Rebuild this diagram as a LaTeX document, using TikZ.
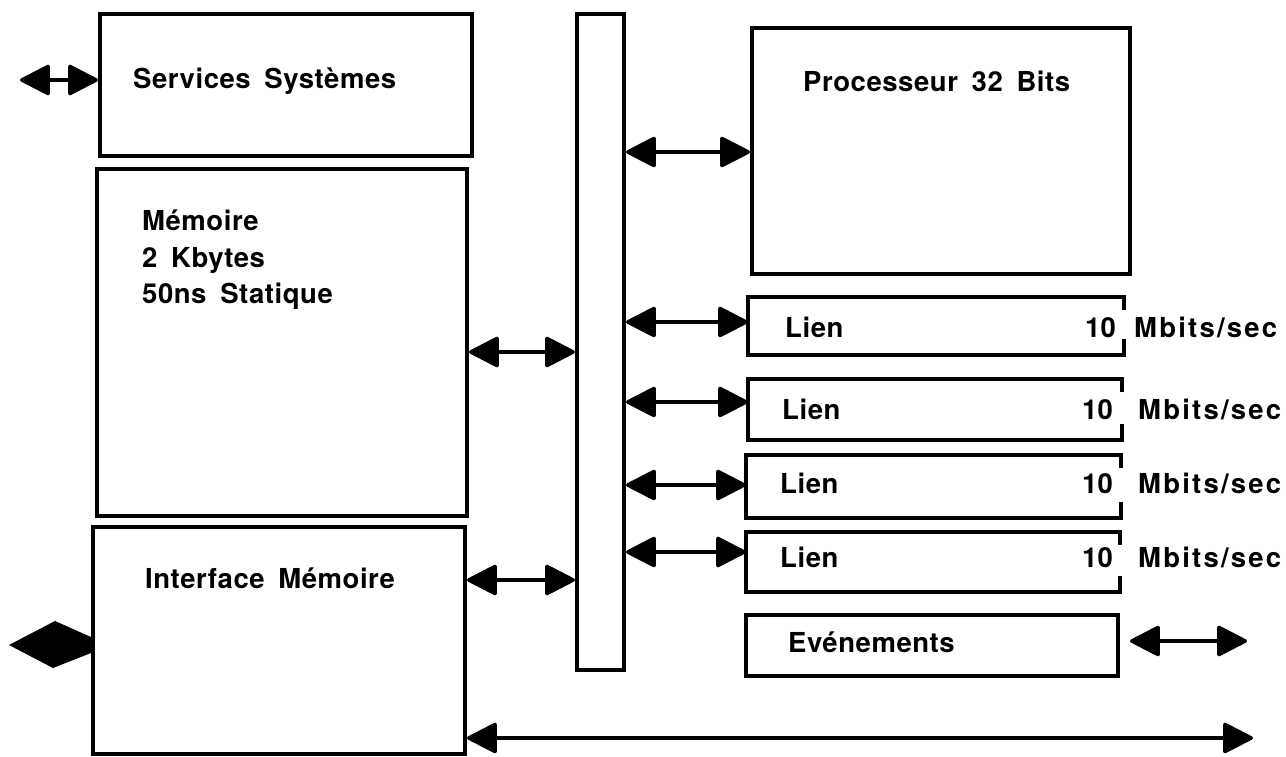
\documentclass[tikz,border=0pt]{standalone}
\usepackage{fontspec}
\setmainfont{TeX Gyre Heros}
\usetikzlibrary{arrows.meta,calc}
\tikzset{
  x=1pt, y=-1pt,
  box/.style={draw, line width=4pt, inner sep=0pt},
  openbox/.style={line width=4pt, line join=miter},
  lbl/.style={anchor=base west, inner sep=0pt, font=\bfseries\fontsize{27.5}{37}\selectfont\addfontfeature{LetterSpace=2}},
  lblr/.style={anchor=base east, inner sep=0pt, font=\bfseries\fontsize{27.5}{37}\selectfont},
  rate/.style={lbl, font=\bfseries\fontsize{27.5}{37}\selectfont\addfontfeature{LetterSpace=8}},
  head/.tip={Triangle[length=32pt,width=32pt,round]},
  arr/.style={line width=3.5pt, {head}-{head}},
}
\newcommand{\gap}{\hspace{0.5em}}
\begin{document}
\begin{tikzpicture}
\useasboundingbox (0,0) rectangle (1286,757);

% left column
\node[box, minimum width=372pt, minimum height=142pt] (svc) at (286,85) {};
\node[lbl] (svct) at (133,89) {Services\gap Systèmes};

\node[box, minimum width=370pt, minimum height=347pt] (mem) at (282,342.5) {};
\node[lbl] (memt) at (142,230) {Mémoire};
\node[lbl] (memt2) at (142,267) {2\gap Kbytes};
\node[lbl] (memt3) at (142,303) {50ns\gap Statique};

\node[box, minimum width=372pt, minimum height=227pt] (ifc) at (279,640.5) {};
\node[lbl] (ift) at (145,588) {Interface\gap Mémoire};

% bus
\node[box, minimum width=47pt, minimum height=656pt] (bus) at (600.5,342) {};

% processor
\node[box, minimum width=378pt, minimum height=246pt] (cpu) at (941,151) {};
\node[lbl] (cput) at (803,92) {Processeur\gap 32\gap Bits};

% links, open on the right side
\foreach \t/\b/\l/\r/\nm in {297/355/748/1124/l1, 379/440/748/1122/l2, 455/518/746/1121/l3, 532/592/746/1120/l4}{
  \coordinate (\nm nw) at (\l,\t);
  \coordinate (\nm sw) at (\l,\b);
  \draw[openbox] (\r,\t+13) -- (\r,\t) -- (\nm nw) -- (\nm sw) -- (\r,\b) -- (\r,\b-16);
}
\node[lbl] (l1a) at (785,337) {Lien};
\node[lblr] (l1b) at (1116,337) {10};
\node[rate] (l1c) at (1134,337) {Mbits/sec};
\node[lbl] (l2a) at (782,419) {Lien};
\node[lblr] (l2b) at (1113,419) {10};
\node[rate] (l2c) at (1138,419) {Mbits/sec};
\node[lbl] (l3a) at (780,493) {Lien};
\node[lblr] (l3b) at (1113,493) {10};
\node[rate] (l3c) at (1138,493) {Mbits/sec};
\node[lbl] (l4a) at (780,567) {Lien};
\node[lblr] (l4b) at (1113,567) {10};
\node[rate] (l4c) at (1138,567) {Mbits/sec};

\node[box, minimum width=372pt, minimum height=61pt] (evt) at (932,645.5) {};
\node[lbl] (evtt) at (788,652) {Evénements};

% connectors
\coordinate (a1) at (20,80);
\draw[arr] (a1) -- (a1 -| svc.west);
% wide two-way port on the memory interface, drawn as one solid kite
\coordinate (a2) at (9,645);
\fill[line join=round] (a2) -- ++(46,-24) -- ($(a2 -| ifc.west)+(0,-8)$)
  -- ($(a2 -| ifc.west)+(0,8)$) -- ++(-38,15) -- cycle;
\coordinate (y1) at (0,352);
\draw[arr] (y1 -| mem.east) -- (y1 -| bus.west);
\coordinate (y2) at (0,580);
\draw[arr] (y2 -| ifc.east) -- (y2 -| bus.west);
\coordinate (y3) at (0,152);
\draw[arr] (y3 -| bus.east) -- (y3 -| cpu.west);
\foreach \y/\nm in {322/l1nw, 402/l2nw, 485/l3nw, 552/l4nw}{
  \coordinate (yy) at (0,\y);
  \draw[arr] (yy -| bus.east) -- (yy -| \nm);
}
\coordinate (e2) at (1247,641);
\draw[arr] (e2 -| evt.east) ++(10,0) -- (e2);
\coordinate (f2) at (1253,738);
\draw[arr] (f2 -| ifc.east) -- (f2);
\end{tikzpicture}
\end{document}
